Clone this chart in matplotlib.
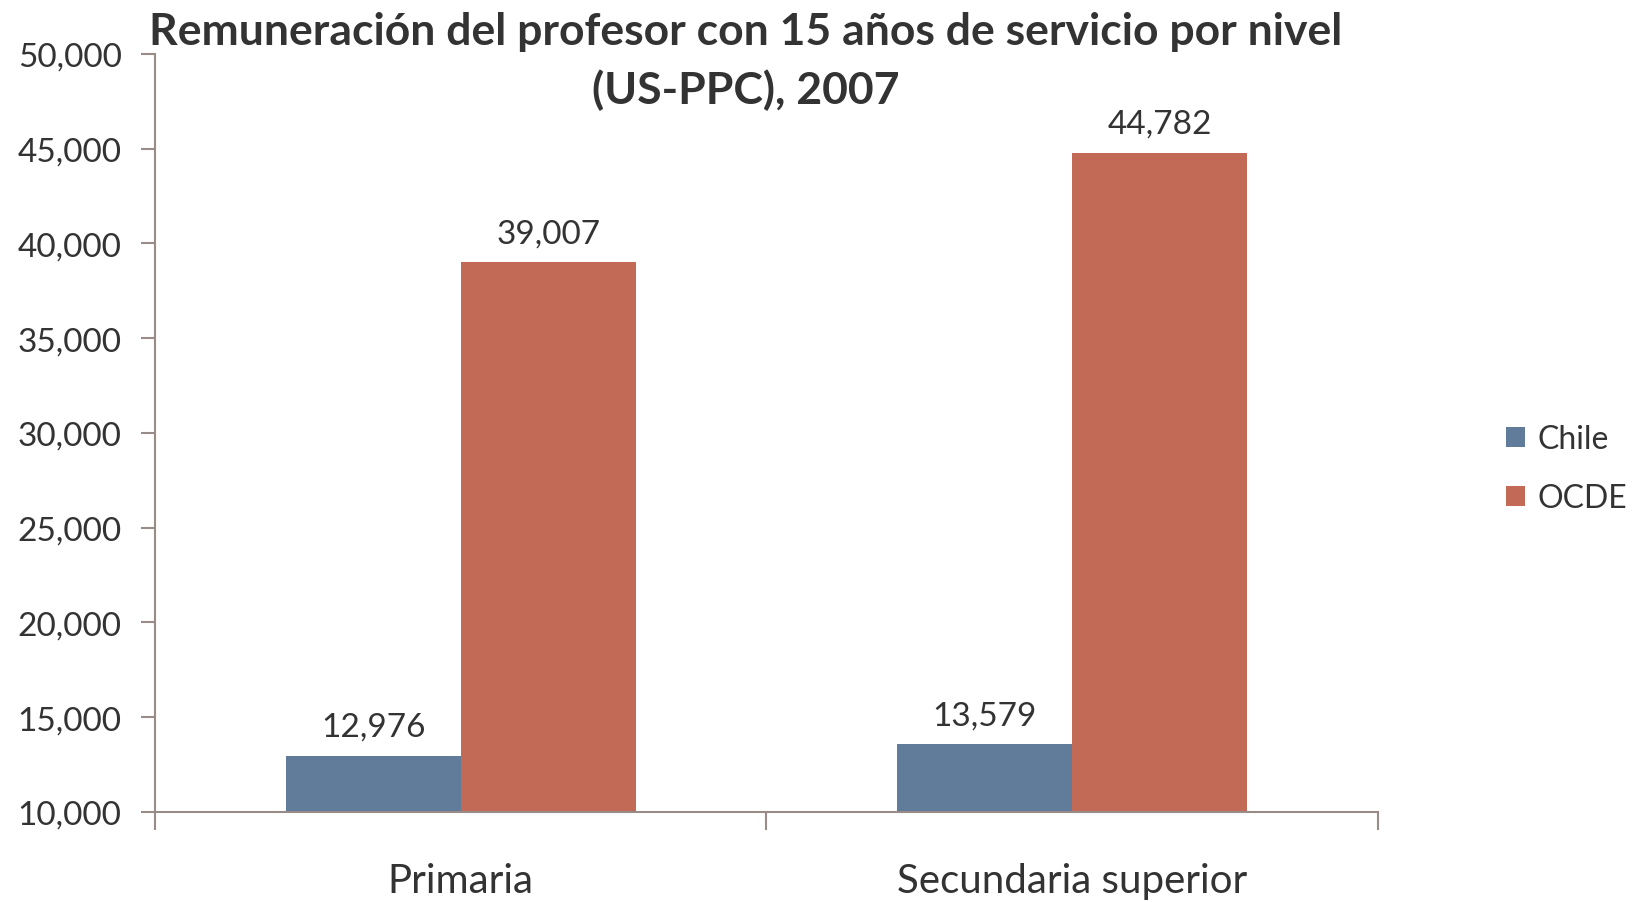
import numpy as np
import matplotlib
matplotlib.use('Agg')
import matplotlib.pyplot as plt

plt.rcParams['font.family'] = ['Lato', 'DejaVu Sans']

# data
niveles = ['Primaria', 'Secundaria superior']
series = ['Chile', 'OCDE']
chile = [12976, 13579]
ocde = [39007, 44782]
yticks = np.arange(10000, 50001, 5000)

colors = ['#617B9B', '#C26A56']
axis_color = '#998C88'
text_color = '#333333'

fig = plt.figure(figsize=(16.36, 9.03), dpi=100)
ax = fig.add_axes([0.0947, 0.0997, 0.7476, 0.8394])

x = np.arange(len(niveles))
width = 0.286
for i, (vals, name) in enumerate(zip([chile, ocde], series)):
    pos = x + (i - 0.5) * width
    ax.bar(pos, [v - 10000 for v in vals], width, bottom=10000,
           color=colors[i], label=name, zorder=2)
    for xp, v in zip(pos, vals):
        ax.annotate(f'{v:,}', (xp, v), xytext=(0, 10), textcoords='offset points',
                    ha='center', va='bottom', fontsize=24, color=text_color)

ax.set_xlim(-0.5, 1.5)
ax.set_ylim(10000, 50000)
ax.set_yticks(yticks)
ax.set_yticklabels([f'{t:,}' for t in yticks], fontsize=24, color=text_color)
ax.tick_params(axis='y', length=10, width=1.5, color=axis_color, pad=14)

# category ticks at boundaries, labels centered
ax.set_xticks([-0.5, 0.5, 1.5])
ax.set_xticklabels([])
ax.tick_params(axis='x', length=13, width=1.5, color=axis_color)
ax.set_xticks(x, minor=True)
ax.set_xticklabels(niveles, minor=True, fontsize=29, color=text_color)
ax.tick_params(axis='x', which='minor', length=0, pad=36)

for s in ['top', 'right']:
    ax.spines[s].set_visible(False)
for s in ['left', 'bottom']:
    ax.spines[s].set_color(axis_color)
    ax.spines[s].set_linewidth(1.5)

fig.text(0.456, 0.987, 'Remuneración del profesor con 15 años de servicio por nivel\n(US-PPC), 2007',
         ha='center', va='top', fontsize=32, fontweight='bold', color=text_color,
         linespacing=1.5)

fig.legend(loc='center left', bbox_to_anchor=(0.903, 0.48), frameon=False,
           fontsize=23, handlelength=0.58, handleheight=0.58, handletextpad=0.4,
           labelspacing=0.9, labelcolor=text_color)

fig.savefig('out.png', dpi=100)
